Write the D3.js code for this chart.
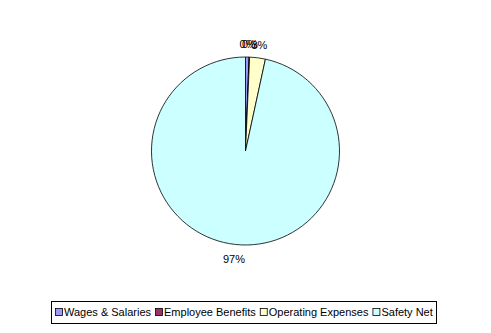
<!DOCTYPE html>
<html>
<head>
<meta charset="utf-8">
<script src="https://cdn.jsdelivr.net/npm/d3@7/dist/d3.min.js"></script>
<style>
  html, body { margin: 0; padding: 0; background: #fff; }
  svg { display: block; }
  text { font-family: "Liberation Sans", Arial, sans-serif; font-size: 11px; fill: #000; }
</style>
</head>
<body>
<svg id="chart" width="491" height="333"></svg>
<script>
// Spending categories and their shares of the total (percent)
const categories = ["Wages & Salaries", "Employee Benefits", "Operating Expenses", "Safety Net"];
const shares = [0.6, 0.1, 2.7, 96.6];
const sliceLabels = ["0%", "0%", "3%", "97%"];
const colors = ["#9999FF", "#993366", "#FFFFCC", "#CCFFFF"];

const width = 491, height = 333;
const cx = 245.5, cy = 151, radius = 94, labelRadius = 108;

const svg = d3.select("#chart");

const data = categories.map((c, i) => ({ name: c, value: shares[i], label: sliceLabels[i], color: colors[i] }));

const pie = d3.pie().value(d => d.value).sort(null);
const arc = d3.arc().innerRadius(0).outerRadius(radius);
const labelArc = d3.arc().innerRadius(labelRadius).outerRadius(labelRadius);

const arcs = pie(data);

const g = svg.append("g").attr("transform", `translate(${cx},${cy})`);

g.selectAll("path.slice")
  .data(arcs)
  .join("path")
  .attr("class", "slice")
  .attr("d", arc)
  .attr("fill", d => d.data.color)
  .attr("stroke", "#000")
  .attr("stroke-width", 0.8)
  .attr("stroke-linejoin", "round");

// Percentage labels just outside each slice
g.selectAll("text.pct")
  .data(arcs)
  .join("text")
  .attr("class", "pct")
  .attr("x", d => labelArc.centroid(d)[0])
  .attr("y", d => labelArc.centroid(d)[1] + 1)
  .attr("text-anchor", "middle")
  .attr("dominant-baseline", "central")
  .text(d => d.data.label);

// Legend: bordered box with swatch + name per category
const legend = svg.append("g");
legend.append("rect")
  .attr("x", 51.5).attr("y", 301.5)
  .attr("width", 385).attr("height", 22)
  .attr("fill", "#fff")
  .attr("stroke", "#000")
  .attr("stroke-width", 1);

const swatch = 7, gap = 1, itemGap = 4;
let x = 55;
const ly = 312;
legend.selectAll("g.item")
  .data(data)
  .join("g")
  .attr("class", "item")
  .each(function(d) {
    const item = d3.select(this);
    item.append("rect")
      .attr("x", x + 0.5).attr("y", ly - 3.5)
      .attr("width", swatch).attr("height", swatch)
      .attr("fill", d.color)
      .attr("stroke", "#000").attr("stroke-width", 0.8);
    const t = item.append("text")
      .attr("x", x + swatch + 1 + gap)
      .attr("y", ly)
      .attr("dominant-baseline", "central")
      .text(d.name);
    x += swatch + 1 + gap + t.node().getComputedTextLength() + itemGap;
  });
</script>
</body>
</html>
